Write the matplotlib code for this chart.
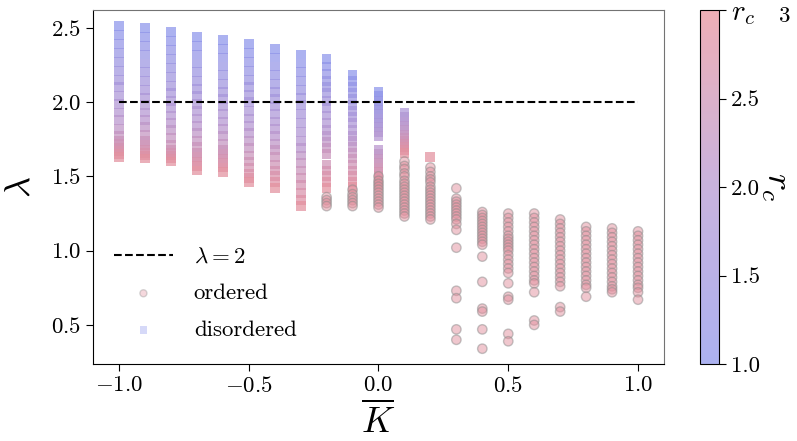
import matplotlib

matplotlib.use("Agg")
import matplotlib.pyplot as plt
import numpy as np
from matplotlib.cm import ScalarMappable
from matplotlib.colors import LinearSegmentedColormap, Normalize

plt.rcParams.update({
    "font.family": "serif",
    "font.serif": ["cmr10"],
    "mathtext.fontset": "cm",
    "axes.formatter.use_mathtext": True,
    "axes.unicode_minus": True,
    "font.size": 16.5,
})

nan = np.nan

# r_c value of each disordered square, row by row
rc_levels = [1.0, 1.1, 1.2, 1.3, 1.4, 1.5, 1.6, 1.7, 1.8, 1.9,
             2.0, 2.1, 2.2, 2.3, 2.4, 2.5, 2.6, 2.7, 2.8, 2.9]

# lambda of the disordered runs, one list per K (aligned with rc_levels)
disordered_lam = {
    -1.0: [2.51, 2.45, 2.39, 2.33, 2.27, 2.21, 2.15, 2.10, 2.04, 1.99,
           1.93, 1.88, 1.82, 1.77, 1.74, 1.72, 1.69, 1.67, 1.65, 1.63],
    -0.9: [2.50, 2.44, 2.38, 2.32, 2.26, 2.20, 2.14, 2.08, 2.03, 1.98,
           1.93, 1.88, 1.83, 1.78, 1.74, 1.71, 1.68, 1.66, 1.64, 1.62],
    -0.8: [2.47, 2.41, 2.35, 2.29, 2.23, 2.17, 2.11, 2.06, 2.01, 1.96,
           1.91, 1.86, 1.81, 1.76, 1.71, 1.68, 1.66, 1.64, 1.62, 1.60],
    -0.7: [2.44, 2.38, 2.32, 2.26, 2.20, 2.14, 2.09, 2.04, 1.99, 1.94,
           1.89, 1.84, 1.79, 1.74, 1.70, 1.66, 1.63, 1.60, 1.57, 1.54],
    -0.6: [2.42, 2.36, 2.30, 2.24, 2.18, 2.12, 2.07, 2.02, 1.97, 1.92,
           1.87, 1.82, 1.77, 1.72, 1.68, 1.65, 1.62, 1.59, 1.56, 1.53],
    -0.5: [2.39, 2.33, 2.27, 2.21, 2.15, 2.10, 2.05, 2.00, 1.94, 1.89,
           1.84, 1.79, 1.74, 1.69, 1.64, 1.60, 1.56, 1.52, 1.49, 1.46],
    -0.4: [2.36, 2.30, 2.24, 2.18, 2.12, 2.07, 2.02, 1.97, 1.92, 1.87,
           1.82, 1.77, 1.72, 1.68, 1.63, 1.58, 1.54, 1.50, 1.46, 1.42],
    -0.3: [2.32, 2.26, 2.20, 2.14, 2.08, 2.03, 1.98, 1.92, 1.86, 1.80,
           1.74, 1.69, 1.64, 1.59, 1.54, 1.49, 1.44, 1.39, 1.34, 1.30],
    -0.2: [2.29, 2.24, 2.19, 2.14, 2.10, 2.06, 2.01, 1.96, 1.91, 1.86,
           1.81, 1.77, 1.73, 1.69, 1.65, 1.58, 1.54, 1.50, 1.46, 1.42],
    -0.1: [2.18, 2.14, 2.10, 2.06, 2.02, 1.98, 1.94, 1.90, 1.86, 1.81,
           1.77, 1.74, 1.70, 1.66, 1.62, 1.58, 1.54, 1.50, 1.46, 1.43],
    0.0: [2.07, 2.04, 2.01, 1.98, 1.95, 1.92, 1.89, 1.86, 1.83, 1.80,
          1.77, 1.68, 1.65, 1.62, 1.59, 1.56, 1.53, 1.50, 1.47, 1.44],
    0.1: [nan, nan, nan, nan, nan, nan, nan, nan, 1.93, 1.90,
          1.87, 1.84, 1.81, 1.78, 1.76, 1.74, 1.72, 1.70, 1.68, 1.66],
    0.2: [nan, nan, nan, nan, nan, nan, nan, nan, nan, nan,
          nan, nan, nan, nan, nan, nan, nan, nan, nan, 1.63],
}

# lambda of the ordered runs, one list per K
ordered_lam = {
    -0.2: [1.36, 1.34, 1.32, 1.30],
    -0.1: [1.41, 1.38, 1.36, 1.34, 1.32, 1.30],
    0.0: [1.50, 1.47, 1.45, 1.43, 1.41, 1.39, 1.37, 1.35, 1.33, 1.31, 1.29],
    0.1: [1.60, 1.57, 1.55, 1.52, 1.50, 1.47, 1.45, 1.43, 1.41, 1.39,
          1.37, 1.35, 1.33, 1.31, 1.29, 1.27, 1.25, 1.23],
    0.2: [1.56, 1.53, 1.50, 1.48, 1.46, 1.43, 1.41, 1.39, 1.37, 1.35,
          1.33, 1.31, 1.29, 1.27, 1.25, 1.23, 1.21],
    0.3: [1.42, 1.35, 1.33, 1.31, 1.29, 1.27, 1.25, 1.23, 1.21, 1.18,
          1.14, 1.02, 0.73, 0.68, 0.47, 0.40],
    0.4: [1.26, 1.24, 1.22, 1.20, 1.18, 1.16, 1.14, 1.12, 1.10, 1.08,
          1.06, 1.04, 0.96, 0.79, 0.61, 0.59, 0.47, 0.34],
    0.5: [1.25, 1.22, 1.19, 1.16, 1.13, 1.10, 1.08, 1.06, 1.04, 1.02,
          1.00, 0.97, 0.94, 0.91, 0.88, 0.85, 0.78, 0.69, 0.67, 0.44, 0.39],
    0.6: [1.25, 1.22, 1.19, 1.16, 1.13, 1.10, 1.07, 1.04, 1.01, 0.98,
          0.95, 0.92, 0.89, 0.86, 0.83, 0.80, 0.78, 0.72, 0.53, 0.50],
    0.7: [1.21, 1.18, 1.15, 1.12, 1.09, 1.06, 1.03, 1.00, 0.97, 0.94,
          0.91, 0.88, 0.85, 0.82, 0.79, 0.76, 0.62, 0.59],
    0.8: [1.16, 1.13, 1.10, 1.07, 1.04, 1.01, 0.98, 0.95, 0.92, 0.89,
          0.86, 0.83, 0.80, 0.77, 0.75, 0.69],
    0.9: [1.15, 1.12, 1.09, 1.06, 1.03, 1.00, 0.97, 0.94, 0.91, 0.88,
          0.85, 0.82, 0.79, 0.76, 0.74, 0.72],
    1.0: [1.13, 1.10, 1.07, 1.04, 1.01, 0.98, 0.95, 0.92, 0.89, 0.86,
          0.83, 0.80, 0.77, 0.75, 0.72, 0.67],
}
rc_ordered = 2.9

lambda_crit = 2.0
cbar_ticks = [1.0, 1.5, 2.0, 2.5, 3.0]
cbar_ticklabels = ["1.0", "1.5", "2.0", "2.5", r"$r_c$"]

# flatten the per-column lists
dis_k, dis_lam, dis_rc = [], [], []
for k, lams in disordered_lam.items():
    for rc, lam in zip(rc_levels, lams):
        if not np.isnan(lam):
            dis_k.append(k)
            dis_lam.append(lam)
            dis_rc.append(rc)

ord_k, ord_lam, ord_rc = [], [], []
for k, lams in ordered_lam.items():
    for lam in lams:
        ord_k.append(k)
        ord_lam.append(lam)
        ord_rc.append(rc_ordered)

cmap = LinearSegmentedColormap.from_list(
    "blue_pink", ["#8c94eb", "#b496d2", "#e8909a"]
)
norm = Normalize(vmin=1.0, vmax=3.0)

fig = plt.figure(figsize=(7.97, 4.41), dpi=100)
ax = fig.add_axes([0.1167, 0.1746, 0.7164, 0.8027])
cax = fig.add_axes([0.8783, 0.1746, 0.0238, 0.8027])

line, = ax.plot([-1.0, 1.0], [lambda_crit, lambda_crit], "k--", lw=1.5, zorder=3)
sq = ax.scatter(dis_k, dis_lam, c=dis_rc, cmap=cmap, norm=norm, marker="s",
                s=50, alpha=0.72, edgecolors="none", zorder=1)
circ = ax.scatter(ord_k, ord_lam, c=ord_rc, cmap=cmap, norm=norm, marker="o",
                  s=46, alpha=0.5, edgecolors="0.55", linewidths=1.0, zorder=2)

ax.set_xlim(-1.1, 1.1)
ax.set_ylim(0.237, 2.62)
ax.set_xticks([-1.0, -0.5, 0.0, 0.5, 1.0])
ax.set_yticks([0.5, 1.0, 1.5, 2.0, 2.5])
ax.tick_params(labelsize=16.5, length=5)
for side in ("top", "right"):
    ax.spines[side].set_color("0.45")
ax.set_xlabel(r"$\overline{K}$", fontsize=26, labelpad=4)
ax.set_ylabel(r"$\lambda$", fontsize=26, labelpad=10)

leg = ax.legend([line, circ, sq], [r"$\lambda=2$", "ordered", "disordered"],
                loc="lower left", bbox_to_anchor=(0.0, 0.01), frameon=False,
                fontsize=16.5, markerscale=0.75, handlelength=2.6,
                handletextpad=0.9, labelspacing=0.72)
leg.legend_handles[1].set_alpha(0.35)
leg.legend_handles[2].set_alpha(0.35)

sm = ScalarMappable(norm=norm, cmap=cmap)
cb = fig.colorbar(sm, cax=cax, alpha=0.72)
cb.set_ticks(cbar_ticks)
cb.set_ticklabels(cbar_ticklabels)
cb.ax.tick_params(labelsize=16.5, length=5)
cb.ax.get_yticklabels()[-1].set_fontsize(21)
cb.set_label(r"$r_c$", rotation=270, fontsize=26, labelpad=22)
fig.text(0.985, 0.963, "3", fontsize=16.5, ha="center", va="center")

fig.savefig("out.png", dpi=100)
